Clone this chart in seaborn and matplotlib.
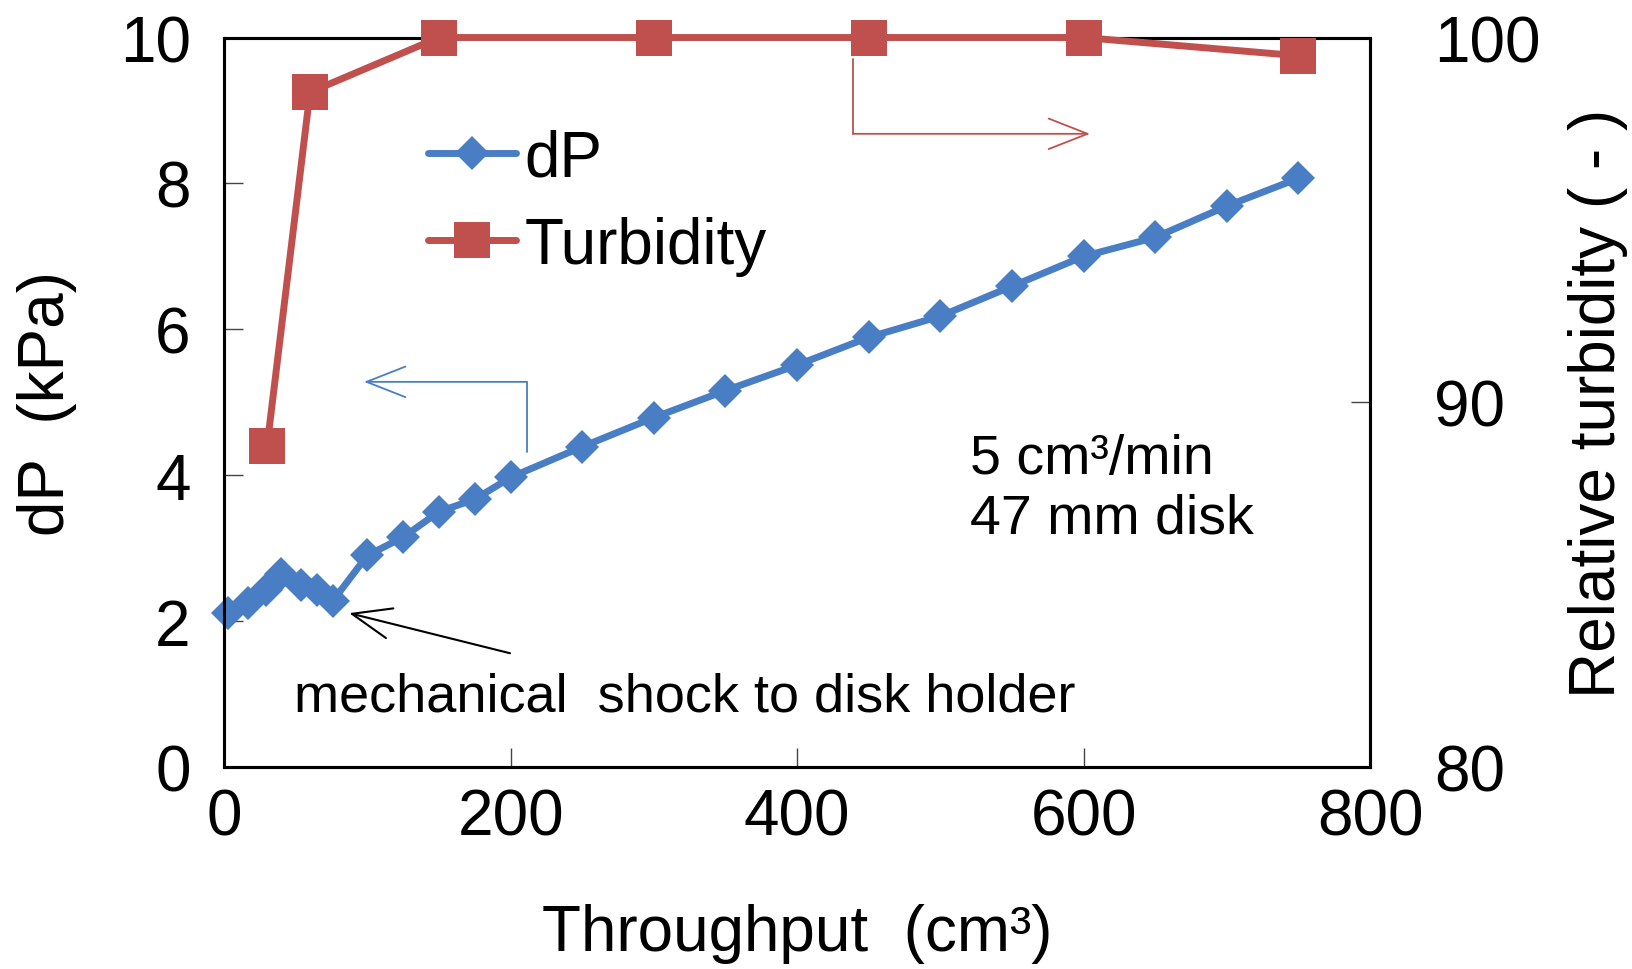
import matplotlib
matplotlib.use("Agg")
import matplotlib.pyplot as plt
import seaborn as sns
import pandas as pd

# Pressure drop across the disk versus cumulative throughput
throughput_dp = [3, 17, 29, 40, 54, 65, 76, 100, 125, 150, 175, 200,
                 250, 300, 350, 400, 450, 500, 550, 600, 650, 700, 750]
dp_kpa = [2.11, 2.25, 2.43, 2.64, 2.50, 2.43, 2.28, 2.90, 3.15, 3.50, 3.67, 3.97,
          4.39, 4.79, 5.16, 5.51, 5.89, 6.18, 6.59, 7.00, 7.26, 7.69, 8.07]

# Relative turbidity of the filtrate
throughput_turb = [30, 60, 150, 300, 450, 600, 750]
turbidity = [88.8, 98.5, 100.0, 100.0, 100.0, 100.0, 99.5]

x_ticks = [0, 200, 400, 600, 800]
left_ticks = [0, 2, 4, 6, 8, 10]
right_ticks = [80, 90, 100]

BLUE = "#4A7EC4"
RED = "#C0504D"
FS = 46

sns.set_style("ticks")
plt.rcParams["font.family"] = ["Liberation Sans", "DejaVu Sans"]
plt.rcParams["text.color"] = "black"
plt.rcParams["axes.labelcolor"] = "black"
plt.rcParams["xtick.labelcolor"] = "black"
plt.rcParams["ytick.labelcolor"] = "black"

df_dp = pd.DataFrame({"Throughput": throughput_dp, "dP": dp_kpa})
df_tb = pd.DataFrame({"Throughput": throughput_turb, "Turbidity": turbidity})

fig = plt.figure(figsize=(16.32, 9.70), dpi=100)
ax = fig.add_axes([0.1373, 0.2082, 0.7022, 0.7521])
ax2 = ax.twinx()

sns.lineplot(data=df_dp, x="Throughput", y="dP", ax=ax, color=BLUE,
             linewidth=5, marker="D", markersize=17, markeredgewidth=0,
             label="dP", clip_on=False, zorder=3)
sns.lineplot(data=df_tb, x="Throughput", y="Turbidity", ax=ax2, color=RED,
             linewidth=5, marker="s", markersize=26, markeredgewidth=0,
             label="Turbidity", clip_on=False, zorder=3)

ax.set_xlim(0, 800)
ax.set_ylim(0, 10)
ax2.set_ylim(80, 100)
ax.set_xticks(x_ticks)
ax.set_yticks(left_ticks)
ax2.set_yticks(right_ticks)

for a in (ax, ax2):
    for s in a.spines.values():
        s.set_visible(True)
        s.set_color("black")
        s.set_linewidth(2.2)

ax.tick_params(axis="x", direction="in", length=14, width=1, color="#444444",
               labelsize=FS, labelcolor="black", pad=15, top=False)
ax.tick_params(axis="y", direction="in", length=14, width=1, color="#444444",
               labelsize=FS, labelcolor="black", pad=24, right=False)
ax2.tick_params(axis="y", direction="in", length=14, width=1, color="#444444",
                labelsize=FS, labelcolor="black", pad=46, left=False)

ax.set_xlabel("Throughput  (cm³)", fontsize=FS, va="center", color="black")
ax.xaxis.set_label_coords(0.5, -0.2276)
ax.set_ylabel("dP  (kPa)", fontsize=FS, va="center", color="black")
ax.yaxis.set_label_coords(-0.1545, 0.5)
ax2.set_ylabel("Relative turbidity ( - )", fontsize=FS, va="center", color="black")
ax2.yaxis.set_label_coords(1.199, 0.5)

# Legend combining both series
h1, l1 = ax.get_legend_handles_labels()
h2, l2 = ax2.get_legend_handles_labels()
if ax.get_legend() is not None:
    ax.get_legend().remove()
leg = ax2.legend(h1 + h2, l1 + l2, loc="upper left",
                 bbox_to_anchor=(0.178, 0.875), frameon=False, fontsize=FS,
                 handlelength=1.38, handletextpad=0.13, labelspacing=0.42,
                 borderpad=0, borderaxespad=0, labelcolor="black")

# Axis-pointer arrows
arrow_kw = dict(mutation_scale=10, shrinkA=0, shrinkB=0)
ax.plot([211.5, 211.5], [4.32, 5.28], color=BLUE, lw=1.3)
ax.annotate("", xy=(97.7, 5.28), xytext=(211.5, 5.28),
            arrowprops=dict(arrowstyle="->,head_length=2.8,head_width=1.1",
                            color=BLUE, lw=1.3, **arrow_kw))
ax.plot([439, 439], [9.70, 8.68], color=RED, lw=1.3)
ax.annotate("", xy=(604.5, 8.68), xytext=(439, 8.68),
            arrowprops=dict(arrowstyle="->,head_length=2.8,head_width=1.1",
                            color=RED, lw=1.3, **arrow_kw))
ax.annotate("", xy=(87.3, 2.11), xytext=(199.6, 1.56),
            arrowprops=dict(arrowstyle="->,head_length=2.8,head_width=1.1",
                            color="black", lw=1.5, **arrow_kw))

ax.text(48.5, 0.77, "mechanical  shock to disk holder", fontsize=39,
        ha="left", va="baseline", color="black")
ax.text(521, 4.03, "5 cm³/min", fontsize=40, ha="left", va="baseline", color="black")
ax.text(521, 3.22, "47 mm disk", fontsize=40, ha="left", va="baseline", color="black")

fig.savefig("out.png", dpi=100)
